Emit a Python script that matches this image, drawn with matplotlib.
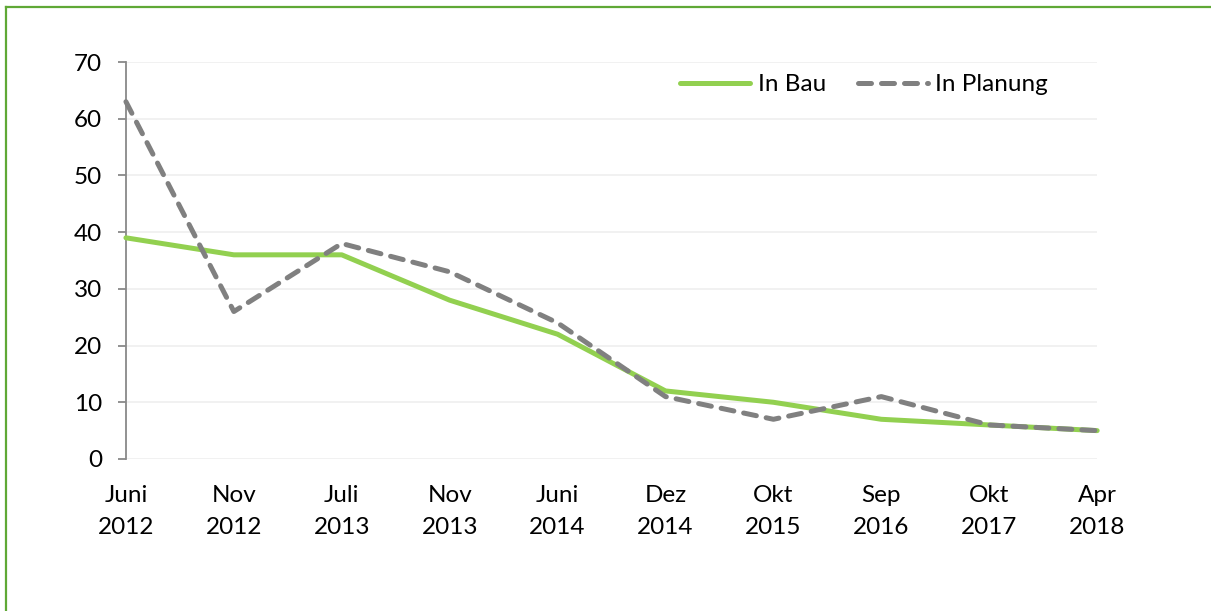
import numpy as np
import matplotlib
matplotlib.use('Agg')
import matplotlib.pyplot as plt
from matplotlib.lines import Line2D

plt.rcParams['font.family'] = ['Lato', 'DejaVu Sans']
plt.rcParams['font.size'] = 17.5

# Daten
categories = ['Juni\n2012', 'Nov\n2012', 'Juli\n2013', 'Nov\n2013', 'Juni\n2014',
              'Dez\n2014', 'Okt\n2015', 'Sep\n2016', 'Okt\n2017', 'Apr\n2018']
in_bau = [39, 36, 36, 28, 22, 12, 10, 7, 6, 5]
in_planung = [63, 26, 38, 33, 24, 11, 7, 11, 6, 5]
y_ticks = [0, 10, 20, 30, 40, 50, 60, 70]

fig = plt.figure(figsize=(12.11, 6.11), dpi=100)
ax = fig.add_axes([0.104, 0.2488, 0.802, 0.6497])

x = np.arange(len(categories))
ax.plot(x, in_bau, color='#92D050', lw=3.6, solid_capstyle='round',
        label='In Bau', clip_on=False, zorder=3)
ax.plot(x, in_planung, color='#808080', lw=3.6, dashes=(2.6, 2.0),
        dash_capstyle='round', label='In Planung', clip_on=False, zorder=4)

ax.set_xlim(0, 9)
ax.set_ylim(0, 70)
ax.set_yticks(y_ticks)
ax.set_xticks(x)
ax.set_xticklabels(categories, linespacing=1.65)

ax.grid(axis='y', color='#EFEFEF', lw=1.2)
ax.set_axisbelow(True)
for s in ['top', 'right', 'bottom']:
    ax.spines[s].set_visible(False)
ax.spines['left'].set_color('#898989')
ax.spines['left'].set_linewidth(1.3)
ax.tick_params(axis='y', length=6, width=1.3, color='#898989', pad=11)
ax.tick_params(axis='x', length=0, pad=19)

leg = ax.legend(loc='upper right', bbox_to_anchor=(0.962, 1.0), ncol=2,
                frameon=False, handlelength=2.9, handletextpad=0.3,
                columnspacing=1.3, borderaxespad=0.1)

# Rahmen (oben und links)
fig.add_artist(Line2D([0.005, 1.0], [0.9885, 0.9885], color='#5FA836', lw=1.6,
                      transform=fig.transFigure))
fig.add_artist(Line2D([0.005, 0.005], [0.0, 0.9885], color='#5FA836', lw=1.6,
                      transform=fig.transFigure))

fig.savefig('out.png', dpi=100)
